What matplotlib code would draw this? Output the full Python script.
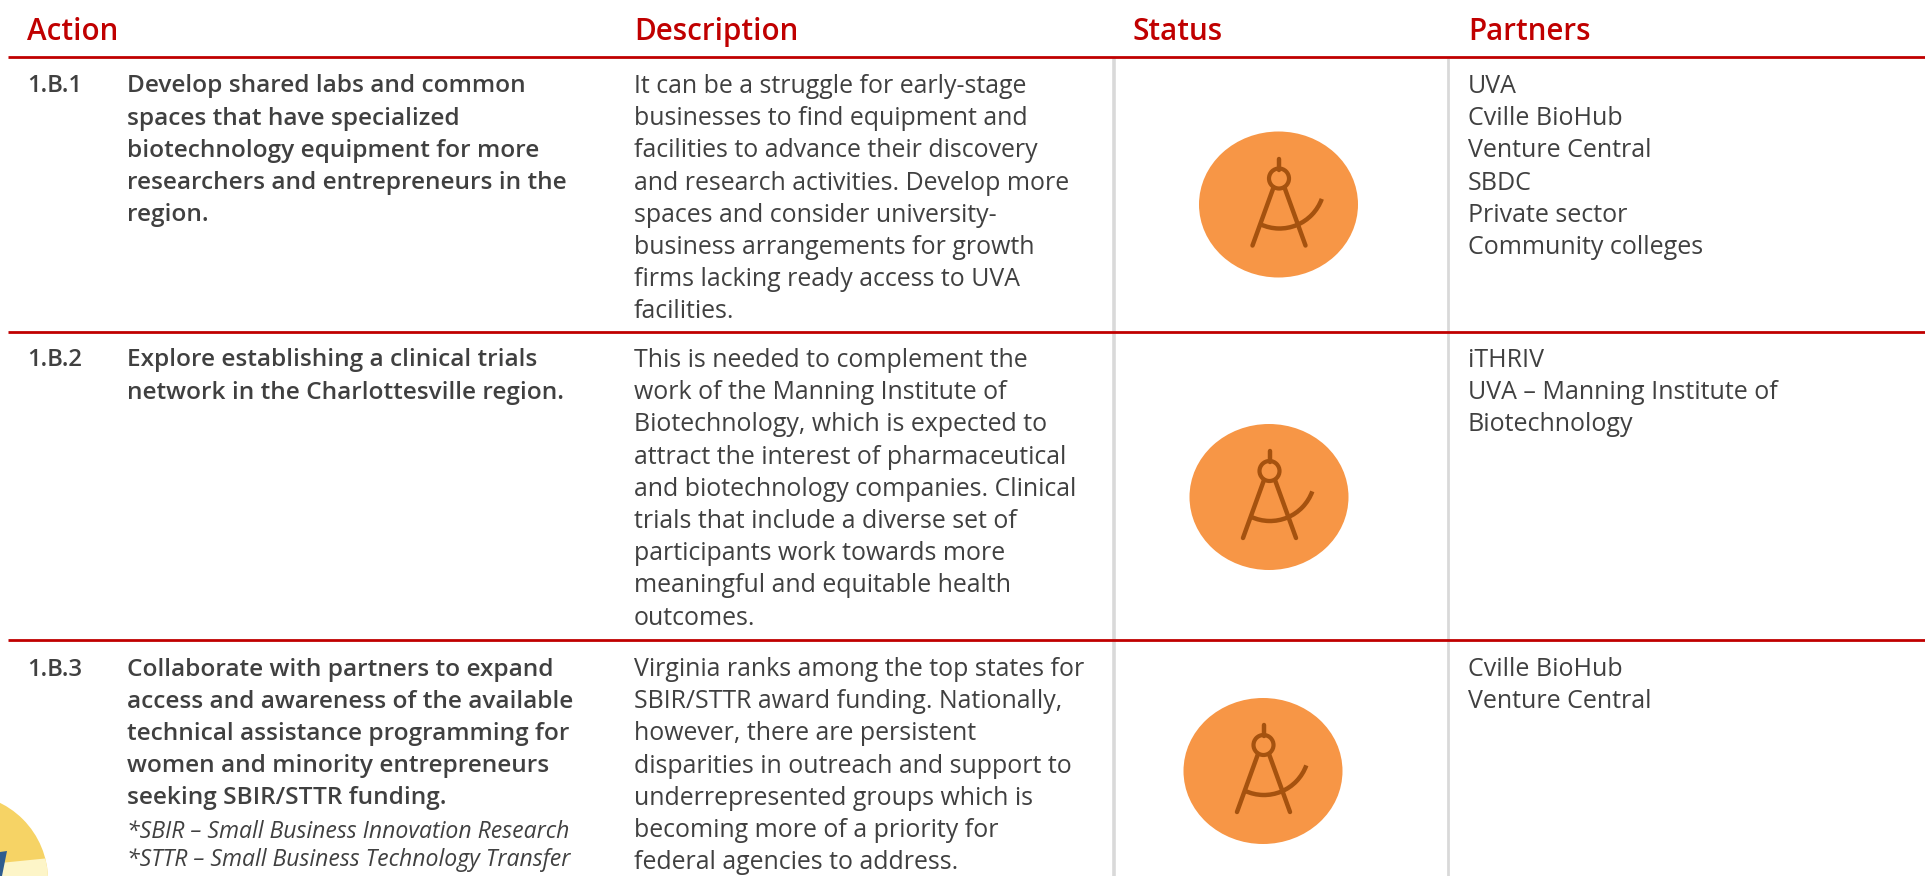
import matplotlib
matplotlib.use("Agg")
import matplotlib.pyplot as plt
from matplotlib.patches import Ellipse, Arc, Circle, Polygon

W, H = 1925, 876
RED = "#C00000"; TXT = "#404040"; GREY = "#D9D9D9"; ORANGE = "#F79646"; BROWN = "#A5520F"
FONT = "Open Sans"
FS = 17.9
PITCH = 32.2

headers = ["Action", "Description", "Status", "Partners"]
action_ids = ["1.B.1", "1.B.2", "1.B.3"]
action_lines = [
    ["Develop shared labs and common", "spaces that have specialized", "biotechnology equipment for more",
     "researchers and entrepreneurs in the", "region."],
    ["Explore establishing a clinical trials", "network in the Charlottesville region."],
    ["Collaborate with partners to expand", "access and awareness of the available",
     "technical assistance programming for", "women and minority entrepreneurs", "seeking SBIR/STTR funding."],
]
footnotes = ["*SBIR – Small Business Innovation Research", "*STTR – Small Business Technology Transfer"]
description_lines = [
    ["It can be a struggle for early-stage", "businesses to find equipment and", "facilities to advance their discovery",
     "and research activities. Develop more", "spaces and consider university-",
     "business arrangements for growth", "firms lacking ready access to UVA", "facilities."],
    ["This is needed to complement the", "work of the Manning Institute of", "Biotechnology, which is expected to",
     "attract the interest of pharmaceutical", "and biotechnology companies. Clinical",
     "trials that include a diverse set of", "participants work towards more", "meaningful and equitable health", "outcomes."],
    ["Virginia ranks among the top states for", "SBIR/STTR award funding. Nationally,", "however, there are persistent",
     "disparities in outreach and support to", "underrepresented groups which is",
     "becoming more of a priority for", "federal agencies to address."],
]
partner_lines = [
    ["UVA", "Cville BioHub", "Venture Central", "SBDC", "Private sector", "Community colleges"],
    ["iTHRIV", "UVA – Manning Institute of", "Biotechnology"],
    ["Cville BioHub", "Venture Central"],
]
row_text_top = [86.5, 360.5, 669.5]
row_lines = [57, 332, 640]
icon_centres = [(1278.5, 204.5), (1269, 497), (1263, 771)]

fig = plt.figure(figsize=(W / 100, H / 100), dpi=100)
ax = fig.add_axes([0, 0, 1, 1])
ax.set_xlim(0, W); ax.set_ylim(H, 0); ax.axis("off")

# corner decoration
disc = Circle((-38, 880), 86, fc="#F6D365", ec="none", zorder=1)
ax.add_patch(disc)
pale = Polygon([(0, 863), (50, 858), (50, 876), (0, 876)], fc="#FDF5C8", ec="none", zorder=1.1)
ax.add_patch(pale)
pale.set_clip_path(disc)
ax.add_patch(Polygon([(0, 852), (7, 851), (2, 876), (0, 876)], fc="#2F5C8F", ec="none", zorder=1.2))

for x, t in zip([27, 634, 1133, 1468], headers):
    ax.text(x, 32, t, color=RED, fontsize=21.3, fontweight="semibold", family=FONT, va="center")

for x in [1114, 1448]:
    ax.plot([x, x], [58, H], color=GREY, lw=2.6 if x == 1114 else 2.0, zorder=2, solid_capstyle="butt")
for y in row_lines:
    ax.plot([8, W], [y, y], color=RED, lw=2, zorder=3, solid_capstyle="butt")

def block(x, top, lines, **kw):
    pitch = kw.get("pitch", PITCH)
    for i, s in enumerate(lines):
        ax.text(x, top + i * pitch, s, va="center", color=TXT, fontsize=kw.get("fs", FS),
                fontweight=kw.get("w", "normal"), style=kw.get("st", "normal"), family=FONT)

for i in range(3):
    block(27, row_text_top[i], [action_ids[i]], w="semibold", fs=17.2)
    block(127, row_text_top[i], action_lines[i], w="semibold", fs=17.6)
    block(634, row_text_top[i], description_lines[i])
    block(1468, row_text_top[i], partner_lines[i], fs=18)
block(127, 831.5, footnotes, st="italic", fs=16.6, pitch=28.5)

def icon(cx, cy):
    ax.add_patch(Ellipse((cx, cy), 159, 146, fc=ORANGE, ec="none", zorder=4))
    kw = dict(color=BROWN, lw=3.2, solid_capstyle="round", zorder=5)
    ax.plot([cx + .5, cx + .5], [cy - 46, cy - 35], **kw)
    ax.add_patch(Circle((cx + .5, cy - 26), 10, fc="none", ec=BROWN, lw=3.0, zorder=5))
    ax.plot([cx - 5, cx - 26], [cy - 17, cy + 41], **kw)
    ax.plot([cx + 6, cx + 27], [cy - 17, cy + 41], **kw)
    ax.add_patch(Arc((cx + 1, cy - 21), 90, 90, angle=0, theta1=20, theta2=115, color=BROWN, lw=3.2, zorder=5))

for c in icon_centres:
    icon(*c)

fig.savefig("out.png", dpi=100)
